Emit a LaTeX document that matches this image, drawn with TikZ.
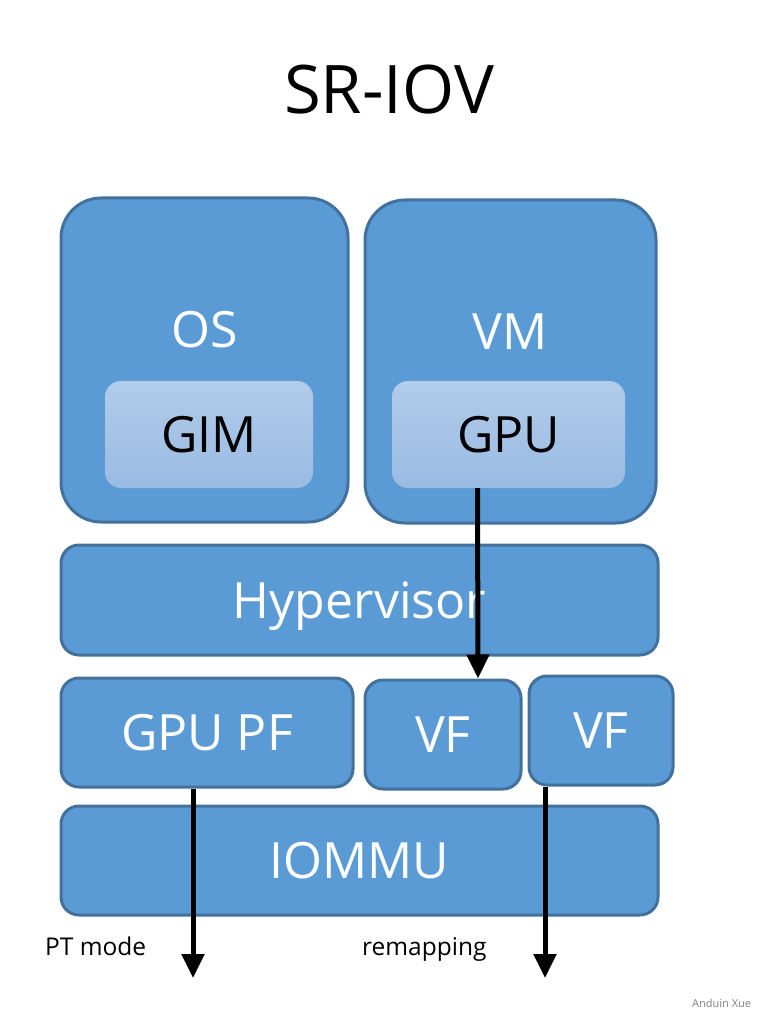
\documentclass[tikz,border=0pt]{standalone}
\usepackage{fontspec}
\setmainfont{Open Sans}
\usetikzlibrary{arrows.meta}
\definecolor{boxfill}{HTML}{5B9BD5}
\definecolor{boxline}{HTML}{41719C}
\definecolor{innertop}{HTML}{B2CCEA}
\definecolor{innerbot}{HTML}{99BAE2}
\tikzset{
  bigbox/.style={draw=boxline, line width=3pt, fill=boxfill, rounded corners=40pt, inner sep=0pt},
  barbox/.style={draw=boxline, line width=3pt, fill=boxfill, rounded corners=18pt, inner sep=0pt,
    text=white, font=\fontsize{50}{50}\selectfont, text height=36pt, text depth=0pt},
  innerbox/.style={top color=innertop, bottom color=innerbot, rounded corners=16pt, inner sep=0pt,
    text=black, font=\fontsize{50}{50}\selectfont, text height=36pt, text depth=0pt},
  bigtext/.style={text=white, font=\fontsize{50}{50}\selectfont, inner sep=0pt},
  smalltext/.style={text=black, font=\fontsize{24.5}{24.5}\selectfont, inner sep=0pt},
  flow/.style={line width=5pt, -{Triangle[width=22pt,length=24pt]}},
}
\begin{document}
\begin{tikzpicture}[x=1pt,y=-1pt]
\useasboundingbox (0,0) rectangle (762,1024);
\node[text=black, font=\fontsize{67}{67}\selectfont, inner sep=0pt] (title) at (389,90) {SR-IOV};
% top boxes
\node[bigbox, minimum width=287pt, minimum height=324pt] (os) at (204.5,360) {};
\node[bigbox, minimum width=291pt, minimum height=323pt] (vm) at (510.5,361.5) {};
\node[bigtext] (ostext) at (205,330) {OS};
\node[bigtext] (vmtext) at (510,332) {VM};
\node[innerbox, minimum width=208pt, minimum height=107pt] (gim) at (209,434.5) {GIM};
\node[innerbox, minimum width=233pt, minimum height=107pt] (gpu) at (508.5,434.5) {GPU};
% hypervisor
\node[barbox, minimum width=597pt, minimum height=110pt] (hyp) at (359.5,600) {Hypervisor};
% functions
\node[barbox, minimum width=292pt, minimum height=109pt] (pf) at (207,732.5) {GPU PF};
\node[barbox, minimum width=156pt, minimum height=109pt] (vf1) at (443,734.5) {VF};
\node[barbox, minimum width=144pt, minimum height=109pt] (vf2) at (601,730.5) {VF};
% iommu
\node[barbox, minimum width=597pt, minimum height=109pt] (iommu) at (359.5,860.5) {IOMMU};
% labels
\node[smalltext, anchor=base west] (pt) at (45,955) {PT mode};
\node[smalltext, anchor=base west] (remap) at (362,955) {remapping};
\node[text=gray, font=\fontsize{11}{11}\selectfont, inner sep=0pt, anchor=west] (author) at (692,1003) {Anduin Xue};
% arrows
\coordinate (ptend) at (193,978);
\coordinate (remapend) at (545,978);
\draw[flow] ([xshift=-31pt]gpu.south) -- ([xshift=35pt]vf1.north);
\draw[flow] (pf.south -| ptend) -- (ptend);
\draw[flow] (vf2.south -| remapend) -- (remapend);
\end{tikzpicture}
\end{document}
